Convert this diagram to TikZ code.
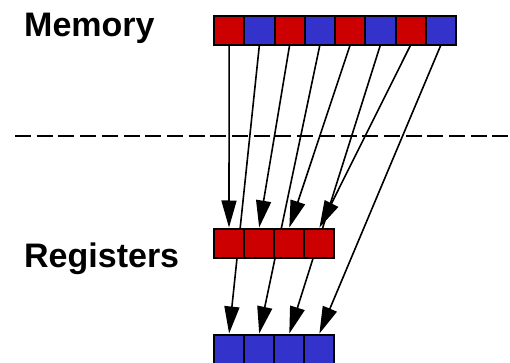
\documentclass[tikz,border=0pt]{standalone}
\usepackage{fontspec}
\setmainfont{Liberation Sans}
\usetikzlibrary{arrows.meta}
\definecolor{cellred}{RGB}{204,0,0}
\definecolor{cellblue}{RGB}{51,51,204}
\tikzset{
  cell/.style={draw=black, line width=2pt, inner sep=0pt, outer sep=0pt,
    minimum width=30.25pt, minimum height=29pt},
  redcell/.style={cell, fill=cellred},
  bluecell/.style={cell, fill=cellblue},
  regcell/.style={cell, minimum width=30pt},
  link/.style={line width=1.6pt, shorten >=1pt, -{Triangle[length=27pt,width=15pt]}},
  label/.style={font=\fontsize{34}{40}\selectfont\bfseries, inner sep=0pt, anchor=base west},
  divider/.style={line width=2pt, dash pattern=on 16pt off 5.7pt}
}
\begin{document}
\begin{tikzpicture}[x=1pt,y=-1pt]
\clip (0,0) rectangle (510,363);
\fill[white] (0,0) rectangle (510,363);
% labels
\node[label] (memlbl) at (24,37) {Memory};
\node[label] (reglbl) at (24,267) {Registers};
% divider
\coordinate (dl) at (15,136.5);
\coordinate (dr) at (512,136.5);
\draw[divider] (dl) -- (dr);
% memory row
\foreach \i in {1,...,8} {
  \pgfmathsetmacro{\xx}{229.125+30.25*(\i-1)}
  \pgfmathparse{mod(\i,2)==1 ? "redcell" : "bluecell"}
  \edef\sty{\pgfmathresult}
  \node[\sty] (m\i) at (\xx,30.5) {};
}
% blue register row
\foreach \i in {1,...,4} {
  \pgfmathsetmacro{\xx}{229+30*(\i-1)}
  \node[regcell, fill=cellblue] (b\i) at (\xx,349) {};
}
% long arrows (pass behind red row)
\draw[link] (m2.south) -- (b1.north);
\draw[link] (m4.south) -- (b2.north);
\draw[link] (m6.south) -- (b3.north);
\draw[link] (m8.south) -- (b4.north);
% red register row
\foreach \i in {1,...,4} {
  \pgfmathsetmacro{\xx}{229+30*(\i-1)}
  \node[regcell, fill=cellred] (r\i) at (\xx,243) {};
}
% short arrows
\draw[link] (m1.south) -- (r1.north);
\draw[link] (m3.south) -- (r2.north);
\draw[link] (m5.south) -- (r3.north);
\draw[link] (m7.south) -- (r4.north);
\end{tikzpicture}
\end{document}
